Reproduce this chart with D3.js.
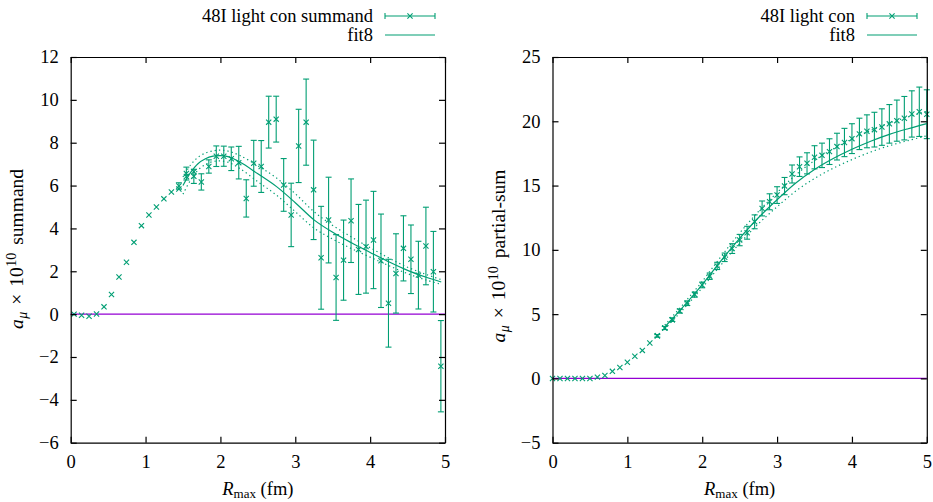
<!DOCTYPE html>
<html>
<head>
<meta charset="utf-8">
<script src="https://cdn.jsdelivr.net/npm/d3@7"></script>
<style>
  body { margin: 0; background: #fff; }
  svg { display: block; }
  text { font-family: "Liberation Serif", "Times New Roman", serif; fill: #000; }
</style>
</head>
<body>
<svg id="chart" width="933" height="502"></svg>
<script>
// ---------- data ----------
// R_max values (fm) for the summand panel
const rSummand = [0.045,0.145,0.245,0.345,0.445,0.545,0.645,0.745,0.845,0.945,
  1.045,1.145,1.245,1.345,1.445,1.545,1.645,1.745,1.845,1.945,
  2.045,2.145,2.245,2.345,2.445,2.545,2.645,2.745,2.845,2.945,
  3.045,3.145,3.245,3.345,3.445,3.545,3.645,3.745,3.845,3.945,
  4.045,4.145,4.245,4.345,4.445,4.545,4.645,4.745,4.845,4.945];
// short-distance summand points (no errors), rSummand[0..16]
const summandPlain = [0.0,-0.05,-0.1,0.01,0.34,0.92,1.73,2.42,3.35,4.13,4.63,5.0,5.38,5.70,5.84,6.42,6.65];
// summand points with errors, rSummand[14..49]
const summandVal = [5.98,6.56,6.43,6.17,6.89,7.37,7.37,7.25,7.07,5.40,7.04,6.89,8.96,9.10,6.03,4.63,7.85,8.96,5.80,2.63,
  4.39,1.71,2.52,4.36,3.02,3.15,3.46,2.49,0.51,1.90,3.07,2.56,1.82,3.18,1.98,-2.43];
const summandErr = [0.15,0.30,0.33,0.38,0.31,0.48,0.47,0.55,0.76,0.87,1.07,1.21,1.21,1.07,1.23,1.48,1.71,2.01,2.32,2.40,
  2.00,2.00,1.87,1.95,2.10,2.17,2.27,2.18,2.05,1.85,1.52,1.60,1.58,1.81,1.88,2.13];
const summandErrStart = 14;

// R_max values (fm) for the partial-sum panel
const rPartial = [0.0,0.1,0.2,0.3,0.4,0.5,0.6,0.7,0.8,0.9,
  1.0,1.1,1.2,1.3,1.4,1.5,1.6,1.7,1.8,1.9,
  2.0,2.1,2.2,2.3,2.4,2.5,2.6,2.7,2.8,2.9,
  3.0,3.1,3.2,3.3,3.4,3.5,3.6,3.7,3.8,3.9,
  4.0,4.1,4.2,4.3,4.4,4.5,4.6,4.7,4.8,4.9,5.0];
const partialPlain = [0,0,0,0,0,0,0.1,0.23,0.55,0.85,1.26,1.72,2.18,2.75,3.31,3.92,4.57];
const partialVal = [3.31,3.92,4.57,5.24,5.85,6.52,7.27,7.95,8.75,9.42,10.1,10.76,11.33,12.18,13.22,13.74,14.26,14.96,15.9,16.47,
  16.73,17.2,17.35,17.64,18.03,18.35,18.65,19.02,19.22,19.35,19.55,19.8,20.05,20.24,20.57,20.74,20.55];
const partialErr = [0.10,0.12,0.14,0.16,0.18,0.20,0.22,0.25,0.28,0.33,0.38,0.44,0.50,0.54,0.58,0.62,0.65,0.67,0.70,0.76,
  0.82,0.90,0.95,1.00,1.04,1.10,1.16,1.22,1.28,1.35,1.42,1.50,1.60,1.69,1.80,1.92,1.90];
const partialErrStart = 14;

// fit8 curves with their error bands
const fitSummandR   = [1.5,1.6,1.7,1.8,1.9,2.0,2.1,2.25,2.5,2.75,3.0,3.25,3.5,3.75,4.0,4.25,4.5,4.75,4.95];
const fitSummandVal = [6.0,6.6,7.02,7.25,7.37,7.40,7.35,7.12,6.55,5.95,5.2,4.4,3.82,3.33,2.88,2.44,2.04,1.72,1.5];
const fitSummandErr = [0.4,0.35,0.3,0.27,0.25,0.25,0.26,0.3,0.37,0.4,0.42,0.38,0.32,0.27,0.22,0.18,0.15,0.13,0.11];
const fitPartialR   = [1.5,1.75,2.0,2.25,2.5,2.75,3.0,3.25,3.5,3.75,4.0,4.25,4.5,4.75,5.0];
const fitPartialVal = [4.0,5.6,7.3,9.15,10.9,12.5,13.9,15.2,16.25,17.1,17.82,18.45,18.98,19.42,19.82];
const fitPartialErr = [0.15,0.2,0.25,0.32,0.4,0.48,0.55,0.63,0.7,0.75,0.8,0.84,0.88,0.92,0.95];

const xTicks = [0,1,2,3,4,5];
const summandTicks = [-6,-4,-2,0,2,4,6,8,10,12];
const partialTicks = [-5,0,5,10,15,20,25];

// ---------- drawing ----------
const GREEN = "#009e73", PURPLE = "#9400d3";
const SERIF = '"Liberation Serif", "Times New Roman", serif';
const svg = d3.select("#chart");
svg.append("rect").attr("width", 933).attr("height", 502).attr("fill", "#fff");

const TOP = 57, BOTTOM = 442.7, WIDTH = 374.3;
const FS = 18.5;
const crossPath = s => `M${-s},${-s}L${s},${s}M${-s},${s}L${s},${-s}`;

function errorBar(g, px, py0, py1, cap) {
  g.append("line").attr("x1", px).attr("x2", px).attr("y1", py0).attr("y2", py1);
  g.append("line").attr("x1", px - cap).attr("x2", px + cap).attr("y1", py0).attr("y2", py0);
  g.append("line").attr("x1", px - cap).attr("x2", px + cap).attr("y1", py1).attr("y2", py1);
}

// rotated y title: a_mu x 10^10 <word>, math-style spacing around the times sign
function yLabel(g, cx, cy, word) {
  const t = g.append("text")
    .attr("transform", `translate(${cx},${cy}) rotate(-90)`)
    .attr("text-anchor", "middle")
    .style("font-family", SERIF)
    .attr("font-size", 19.5);
  t.append("tspan").attr("font-style", "italic").text("a");
  t.append("tspan").attr("font-style", "italic").attr("font-size", 14).attr("dy", 4).attr("dx", 0.5).text("μ");
  t.append("tspan").attr("dy", -4).attr("dx", 7).text("×");
  t.append("tspan").attr("dx", 7).text("10");
  t.append("tspan").attr("font-size", 14).attr("dy", -7).attr("dx", 0.5).text("10");
  t.append("tspan").attr("dy", 7).attr("dx", 8).text(word);
}

function xLabel(g, cx, by) {
  const t = g.append("text").attr("x", cx).attr("y", by).attr("text-anchor", "middle")
    .style("font-family", SERIF).attr("font-size", FS);
  t.append("tspan").attr("font-style", "italic").text("R");
  t.append("tspan").attr("font-size", 13).attr("dy", 3).text("max");
  t.append("tspan").attr("dy", -3).text(" (fm)");
}

function panel(o) {
  const x = d3.scaleLinear().domain([0, 5]).range([o.left, o.left + WIDTH]);
  const y = d3.scaleLinear().domain(o.yDomain).range([BOTTOM, TOP]);
  const g = svg.append("g");

  // zero reference line
  g.append("line")
    .attr("x1", x(0)).attr("x2", x(5)).attr("y1", y(0)).attr("y2", y(0))
    .attr("stroke", PURPLE).attr("stroke-width", 1.2);

  // fit: central curve and dotted error band
  const fitPts = o.fitR.map((r, i) => ({ r, v: o.fitVal[i], e: o.fitErr[i] }));
  const curve = d3.curveCatmullRom.alpha(0.5);
  const lineC = d3.line().x(d => x(d.r)).y(d => y(d.v)).curve(curve);
  const lineU = d3.line().x(d => x(d.r)).y(d => y(d.v + d.e)).curve(curve);
  const lineL = d3.line().x(d => x(d.r)).y(d => y(d.v - d.e)).curve(curve);
  [lineU, lineL].forEach(l => g.append("path").attr("d", l(fitPts))
    .attr("fill", "none").attr("stroke", GREEN).attr("stroke-width", 1.2)
    .attr("stroke-dasharray", "1.3,3"));
  g.append("path").attr("d", lineC(fitPts))
    .attr("fill", "none").attr("stroke", GREEN).attr("stroke-width", 1.2);

  // points without errors
  const gp = g.append("g").attr("stroke", GREEN).attr("stroke-width", 1.1).attr("fill", "none");
  o.plain.forEach((v, i) => {
    gp.append("path").attr("d", crossPath(2.6))
      .attr("transform", `translate(${x(o.r[i])},${y(v)})`);
  });

  // points with error bars
  const ge = g.append("g").attr("stroke", GREEN).attr("stroke-width", 1.1).attr("fill", "none");
  o.val.forEach((v, k) => {
    const px = x(o.r[o.errStart + k]);
    errorBar(ge, px, y(v - o.err[k]), y(v + o.err[k]), 3);
    ge.append("path").attr("d", crossPath(2.6)).attr("transform", `translate(${px},${y(v)})`);
  });

  // axes on all four sides, ticks pointing inward
  const styleAxis = a => {
    a.attr("font-family", null);
    a.selectAll("path.domain").attr("stroke", "#000").attr("stroke-width", 1.2);
    a.selectAll(".tick line").attr("stroke", "#000").attr("stroke-width", 1.2);
    a.selectAll(".tick text").style("font-family", SERIF).attr("font-size", FS);
  };
  const ax = svg.append("g").attr("transform", `translate(0,${BOTTOM})`)
    .call(d3.axisBottom(x).tickValues(xTicks).tickFormat(d3.format("d")).tickSize(-6).tickSizeOuter(0).tickPadding(12));
  styleAxis(ax);
  const axT = svg.append("g").attr("transform", `translate(0,${TOP})`)
    .call(d3.axisTop(x).tickValues(xTicks).tickFormat("").tickSize(-6).tickSizeOuter(0));
  styleAxis(axT);
  const ay = svg.append("g").attr("transform", `translate(${o.left},0)`)
    .call(d3.axisLeft(y).tickValues(o.yTicks).tickFormat(d3.format("d")).tickSize(-6).tickSizeOuter(0).tickPadding(12));
  styleAxis(ay);
  const ayR = svg.append("g").attr("transform", `translate(${o.left + WIDTH},0)`)
    .call(d3.axisRight(y).tickValues(o.yTicks).tickFormat("").tickSize(-6).tickSizeOuter(0));
  styleAxis(ayR);

  // axis titles
  xLabel(svg, o.left + WIDTH / 2, 495);
  yLabel(svg, o.left - 48, o.yLabelMid, o.yWord);

  // legend
  const lg = svg.append("g");
  lg.append("text").attr("x", o.legText).attr("y", 22).attr("text-anchor", "end")
    .style("font-family", SERIF).attr("font-size", FS).text(o.legName);
  lg.append("text").attr("x", o.legText).attr("y", 41).attr("text-anchor", "end")
    .style("font-family", SERIF).attr("font-size", FS).text("fit8");
  const ls = lg.append("g").attr("stroke", GREEN).attr("stroke-width", 1.1).attr("fill", "none");
  const l0 = o.legText + 12, l1 = o.legText + 62;
  ls.append("line").attr("x1", l0).attr("x2", l1).attr("y1", 16).attr("y2", 16);
  ls.append("line").attr("x1", l0).attr("x2", l0).attr("y1", 13).attr("y2", 19);
  ls.append("line").attr("x1", l1).attr("x2", l1).attr("y1", 13).attr("y2", 19);
  ls.append("path").attr("d", crossPath(2.6)).attr("transform", `translate(${(l0 + l1) / 2},16)`);
  ls.append("line").attr("x1", l0).attr("x2", l1).attr("y1", 35).attr("y2", 35).attr("stroke-width", 1.2);
}

panel({
  left: 70.7, yDomain: [-6, 12], yTicks: summandTicks, yWord: "summand", yLabelMid: 249,
  r: rSummand, plain: summandPlain, val: summandVal, err: summandErr, errStart: summandErrStart,
  fitR: fitSummandR, fitVal: fitSummandVal, fitErr: fitSummandErr,
  legText: 373, legName: "48I light con summand"
});
panel({
  left: 552.5, yDomain: [-5, 25], yTicks: partialTicks, yWord: "partial-sum", yLabelMid: 256,
  r: rPartial, plain: partialPlain, val: partialVal, err: partialErr, errStart: partialErrStart,
  fitR: fitPartialR, fitVal: fitPartialVal, fitErr: fitPartialErr,
  legText: 855, legName: "48I light con"
});
</script>
</body>
</html>
